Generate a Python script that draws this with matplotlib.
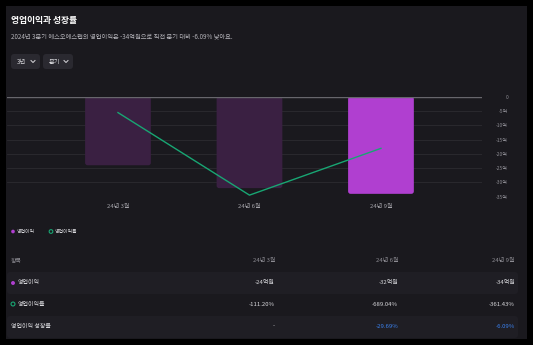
import matplotlib
matplotlib.use("Agg")
import matplotlib.pyplot as plt
from matplotlib.patches import FancyBboxPatch, Rectangle
import numpy as np

plt.rcParams['font.family'] = ['Noto Sans CJK KR', 'DejaVu Sans']
plt.rcParams['axes.unicode_minus'] = False

# 분기별 데이터
quarters = ['24년 3월', '24년 6월', '24년 9월']
profit = [-24, -32, -34]                 # 영업이익 (억원)
margin = [-111.20, -689.04, -361.43]     # 영업이익률 (%)
growth = [None, -29.69, -6.09]           # 영업이익 성장률 (%)
yticks = [0, -5, -10, -15, -20, -25, -30, -35]
ytick_labels = ['0'] + [f'{t}억' for t in yticks[1:]]

title = '영업이익과 성장률'
subtitle = '2024년 3분기 에스오에스랩의 영업이익은 -34억원으로 직전 분기 대비 -6.09% 낮아요.'

W, H = 533, 345
BG = '#000000'
CARD = '#1a191e'
BAND = '#1f1e24'
PURPLE = '#b03fd0'
PURPLE_DIM = '#3a2042'
GREEN = '#18a673'
BLUE = '#3b82f0'
GREY = '#8c8b92'
LIGHT = '#d8d8dc'

fig = plt.figure(figsize=(W / 100, H / 100), dpi=100)
fig.patch.set_facecolor(BG)

# 배경/텍스트용 픽셀 좌표 축
bg = fig.add_axes([0, 0, 1, 1], zorder=0)
bg.set_xlim(0, W)
bg.set_ylim(H, 0)
bg.axis('off')

bg.add_patch(Rectangle((6, 6), 521, 333, facecolor=CARD, edgecolor='none'))

bg.text(11, 20, title, color='white', fontsize=6.3, fontweight='bold', va='center')
bg.text(11, 36, subtitle, color='#b4b3b9', fontsize=4.5, va='center')

# 필터 버튼
for x0, w, label in [(11, 29, '3년'), (43, 30, '분기')]:
    bg.add_patch(FancyBboxPatch((x0, 54), w, 15, boxstyle='round,pad=0,rounding_size=3',
                                facecolor='#2a2930', edgecolor='none'))
    bg.text(x0 + 6, 61.5, label, color=LIGHT, fontsize=4.5, va='center')
    cx = x0 + w - 7
    bg.plot([cx - 2, cx, cx + 2], [60.5, 62.5, 60.5], color=LIGHT, lw=0.7)

# 범례
bg.scatter([13], [231.5], s=7, color=PURPLE, edgecolors='none')
bg.text(17, 231.5, '영업이익', color=LIGHT, fontsize=3.5, va='center')
bg.scatter([51], [231.5], s=7, facecolor='none', edgecolors=GREEN, linewidths=0.8)
bg.text(55, 231.5, '영업이익률', color=LIGHT, fontsize=3.5, va='center')

# 표
col_x = [275, 398, 515]
bg.text(11, 261, '항목', color=GREY, fontsize=4.3, va='center')
for x, q in zip(col_x, quarters):
    bg.text(x, 261, q, color=GREY, fontsize=4.3, va='center', ha='right')

for y0 in (272, 316):
    bg.add_patch(FancyBboxPatch((7, y0), 511, 22, boxstyle='round,pad=0,rounding_size=3',
                                facecolor=BAND, edgecolor='none'))

bg.scatter([13], [283], s=8, color=PURPLE, edgecolors='none')
bg.text(18, 283, '영업이익', color=LIGHT, fontsize=4.3, va='center')
for x, v in zip(col_x, profit):
    bg.text(x, 283, f'{v}억원', color=LIGHT, fontsize=4.3, va='center', ha='right')

bg.scatter([13], [304], s=8, facecolor='none', edgecolors=GREEN, linewidths=0.8)
bg.text(18, 304, '영업이익률', color=LIGHT, fontsize=4.3, va='center')
for x, v in zip(col_x, margin):
    bg.text(x, 304, f'{v:.2f}%', color=LIGHT, fontsize=4.3, va='center', ha='right')

bg.text(11, 326, '영업이익 성장률', color=LIGHT, fontsize=4.3, va='center')
for x, v in zip(col_x, growth):
    if v is None:
        bg.text(x, 326, '-', color=LIGHT, fontsize=4.3, va='center', ha='right')
    else:
        bg.text(x, 326, f'{v:.2f}%', color=BLUE, fontsize=4.3, va='center', ha='right')

# 차트 영역
left, right, top, bottom = 7, 481.7, 96.7, 196.7
ax = fig.add_axes([left / W, 1 - bottom / H, (right - left) / W, (bottom - top) / H], zorder=1)
ax.set_facecolor('none')
x = np.arange(len(quarters))
xlim = (-0.844, 2.766)
ylim = (-35, 0)
ax.set_xlim(*xlim)
ax.set_ylim(*ylim)

# 영업이익률 선 (보조축) - twinx가 눈금 위치를 바꾸므로 먼저 생성
ax2 = ax.twinx()
ax2.set_ylim(-700, 0)
ax2.plot(x, margin, color=GREEN, lw=1.0, zorder=4)
ax2.set_yticks([])
for s in ax2.spines.values():
    s.set_visible(False)

# 둥근 모서리 막대
bar_w = 0.5
px_x = (xlim[1] - xlim[0]) / (right - left)
px_y = (ylim[1] - ylim[0]) / (bottom - top)
for i, v in enumerate(profit):
    color = PURPLE if i == len(profit) - 1 else PURPLE_DIM
    ax.add_patch(FancyBboxPatch((x[i] - bar_w / 2, v), bar_w, -v,
                                boxstyle=f'round,pad=0,rounding_size={2.5 * px_x}',
                                mutation_aspect=px_y / px_x,
                                facecolor=color, edgecolor='none', zorder=2))

for t in yticks[1:]:
    ax.axhline(t, color='#2c2b31', lw=0.6, zorder=1)
ax.axhline(0, color='#67666c', lw=1.0, zorder=3)

for s in ax.spines.values():
    s.set_visible(False)
ax.set_xticks(x, quarters)
ax.tick_params(axis='x', length=0, pad=5, labelsize=4.3, labelcolor='#a3a2a8')
ax.set_yticks(yticks, ytick_labels)
ax.yaxis.tick_right()
ax.tick_params(axis='y', which='both', left=False, labelleft=False,
               right=False, labelright=True, length=0, pad=19,
               labelsize=3.6, labelcolor=GREY)
for lbl in ax.get_yticklabels():
    lbl.set_horizontalalignment('right')

fig.savefig('out.png', dpi=100, facecolor=BG)
